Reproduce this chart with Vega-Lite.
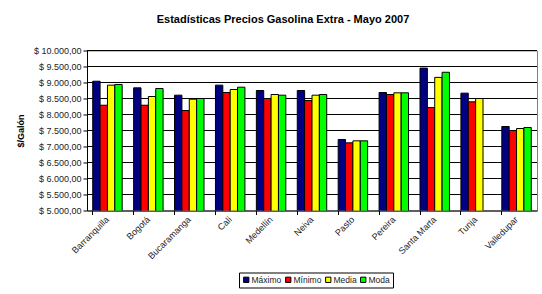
{
  "$schema": "https://vega.github.io/schema/vega-lite/v6.json",
  "width": 450,
  "height": 160,
  "autosize": "none",
  "padding": {"left": 87, "top": 50.5, "right": 5, "bottom": 83},
  "background": "white",
  "title": {
    "text": "Estadísticas Precios Gasolina Extra - Mayo 2007",
    "font": "Liberation Sans",
    "fontSize": 11,
    "fontWeight": "bold",
    "color": "#000000",
    "anchor": "middle",
    "dx": -29,
    "offset": 22
  },
  "datasets": {
    "precios": [
      {"ciudad": "Barranquilla", "serie": "Máximo", "valor": 9040},
      {"ciudad": "Barranquilla", "serie": "Mínimo", "valor": 8290},
      {"ciudad": "Barranquilla", "serie": "Media", "valor": 8917},
      {"ciudad": "Barranquilla", "serie": "Moda", "valor": 8938},
      {"ciudad": "Bogotá", "serie": "Máximo", "valor": 8833},
      {"ciudad": "Bogotá", "serie": "Mínimo", "valor": 8290},
      {"ciudad": "Bogotá", "serie": "Media", "valor": 8562},
      {"ciudad": "Bogotá", "serie": "Moda", "valor": 8812},
      {"ciudad": "Bucaramanga", "serie": "Máximo", "valor": 8604},
      {"ciudad": "Bucaramanga", "serie": "Mínimo", "valor": 8125},
      {"ciudad": "Bucaramanga", "serie": "Media", "valor": 8479},
      {"ciudad": "Bucaramanga", "serie": "Moda", "valor": 8500},
      {"ciudad": "Cali", "serie": "Máximo", "valor": 8917},
      {"ciudad": "Cali", "serie": "Mínimo", "valor": 8687},
      {"ciudad": "Cali", "serie": "Media", "valor": 8781},
      {"ciudad": "Cali", "serie": "Moda", "valor": 8854},
      {"ciudad": "Medellín", "serie": "Máximo", "valor": 8750},
      {"ciudad": "Medellín", "serie": "Mínimo", "valor": 8500},
      {"ciudad": "Medellín", "serie": "Media", "valor": 8625},
      {"ciudad": "Medellín", "serie": "Moda", "valor": 8604},
      {"ciudad": "Neiva", "serie": "Máximo", "valor": 8750},
      {"ciudad": "Neiva", "serie": "Mínimo", "valor": 8437},
      {"ciudad": "Neiva", "serie": "Media", "valor": 8604},
      {"ciudad": "Neiva", "serie": "Moda", "valor": 8625},
      {"ciudad": "Pasto", "serie": "Máximo", "valor": 7219},
      {"ciudad": "Pasto", "serie": "Mínimo", "valor": 7115},
      {"ciudad": "Pasto", "serie": "Media", "valor": 7177},
      {"ciudad": "Pasto", "serie": "Moda", "valor": 7177},
      {"ciudad": "Pereira", "serie": "Máximo", "valor": 8687},
      {"ciudad": "Pereira", "serie": "Mínimo", "valor": 8625},
      {"ciudad": "Pereira", "serie": "Media", "valor": 8677},
      {"ciudad": "Pereira", "serie": "Moda", "valor": 8677},
      {"ciudad": "Santa Marta", "serie": "Máximo", "valor": 9450},
      {"ciudad": "Santa Marta", "serie": "Mínimo", "valor": 8219},
      {"ciudad": "Santa Marta", "serie": "Media", "valor": 9160},
      {"ciudad": "Santa Marta", "serie": "Moda", "valor": 9320},
      {"ciudad": "Tunja", "serie": "Máximo", "valor": 8667},
      {"ciudad": "Tunja", "serie": "Mínimo", "valor": 8396},
      {"ciudad": "Tunja", "serie": "Media", "valor": 8500},
      {"ciudad": "Valledupar", "serie": "Máximo", "valor": 7625},
      {"ciudad": "Valledupar", "serie": "Mínimo", "valor": 7500},
      {"ciudad": "Valledupar", "serie": "Media", "valor": 7562},
      {"ciudad": "Valledupar", "serie": "Moda", "valor": 7594}
    ],
    "rejilla": [
      {"valor": 5500}, {"valor": 6000}, {"valor": 6500}, {"valor": 7000},
      {"valor": 7500}, {"valor": 8000}, {"valor": 8500}, {"valor": 9000},
      {"valor": 9500}, {"valor": 10000}
    ]
  },
  "layer": [
    {
      "data": {"name": "rejilla"},
      "mark": {"type": "rule", "color": "#000000", "strokeWidth": 1, "opacity": 1},
      "encoding": {
        "y": {
          "field": "valor",
          "type": "quantitative",
          "scale": {"domain": [5000, 10000], "zero": false, "nice": false},
          "axis": {
            "title": "$/Galón",
            "titleFont": "Liberation Sans",
            "titleFontSize": 9,
            "titleFontWeight": "bold",
            "titleColor": "#000000",
            "titlePadding": 8,
            "values": [5000, 5500, 6000, 6500, 7000, 7500, 8000, 8500, 9000, 9500, 10000],
            "labelExpr": "'$ ' + replace(replace(replace(format(datum.value, ',.2f'), ',', '_'), '.', ','), '_', '.')",
            "labelOverlap": false,
            "labelFont": "Liberation Sans",
            "labelFontSize": 9,
            "labelColor": "#222222",
            "labelPadding": 2,
            "tickSize": 4,
            "tickColor": "#000000",
            "domainColor": "#000000",
            "grid": false
          }
        }
      }
    },
    {
      "data": {"name": "precios"},
      "mark": {"type": "bar", "stroke": "#000000", "strokeWidth": 1, "clip": true},
      "encoding": {
        "x": {
          "field": "ciudad",
          "type": "nominal",
          "sort": null,
          "scale": {"paddingInner": 0.28, "paddingOuter": 0.14},
          "axis": {
            "title": null,
            "bandPosition": 0,
            "labelAngle": -45,
            "labelAlign": "right",
            "labelBaseline": "middle",
            "labelFont": "Liberation Sans",
            "labelFontSize": 9,
            "labelColor": "#222222",
            "labelPadding": 3,
            "tickSize": 4,
            "tickColor": "#000000",
            "domainColor": "#000000",
            "grid": false
          }
        },
        "xOffset": {
          "field": "serie",
          "type": "nominal",
          "sort": ["Máximo", "Mínimo", "Media", "Moda"],
          "scale": {"paddingInner": 0, "paddingOuter": 0}
        },
        "y": {
          "field": "valor",
          "type": "quantitative",
          "scale": {"domain": [5000, 10000], "zero": false, "nice": false},
          "axis": {
            "title": "$/Galón",
            "titleFont": "Liberation Sans",
            "titleFontSize": 9,
            "titleFontWeight": "bold",
            "titleColor": "#000000",
            "titlePadding": 8,
            "values": [5000, 5500, 6000, 6500, 7000, 7500, 8000, 8500, 9000, 9500, 10000],
            "labelExpr": "'$ ' + replace(replace(replace(format(datum.value, ',.2f'), ',', '_'), '.', ','), '_', '.')",
            "labelOverlap": false,
            "labelFont": "Liberation Sans",
            "labelFontSize": 9,
            "labelColor": "#222222",
            "labelPadding": 2,
            "tickSize": 4,
            "tickColor": "#000000",
            "domainColor": "#000000",
            "grid": false
          }
        },
        "color": {
          "field": "serie",
          "type": "nominal",
          "sort": ["Máximo", "Mínimo", "Media", "Moda"],
          "scale": {
            "domain": ["Máximo", "Mínimo", "Media", "Moda"],
            "range": ["#000080", "#FF0000", "#FFFF00", "#00FF00"]
          },
          "legend": {
            "title": null,
            "orient": "none",
            "direction": "horizontal",
            "legendX": 152,
            "legendY": 222,
            "symbolType": "square",
            "symbolSize": 28,
            "symbolStrokeColor": "#000000",
            "symbolStrokeWidth": 1,
            "labelFont": "Liberation Sans",
            "labelFontSize": 8.5,
            "labelColor": "#222222",
            "labelOffset": 1,
            "columnPadding": 1,
            "strokeColor": "#000000",
            "padding": 3,
            "fillColor": "white"
          }
        }
      }
    }
  ],
  "config": {
    "view": {"stroke": "#808080", "strokeWidth": 1}
  }
}
